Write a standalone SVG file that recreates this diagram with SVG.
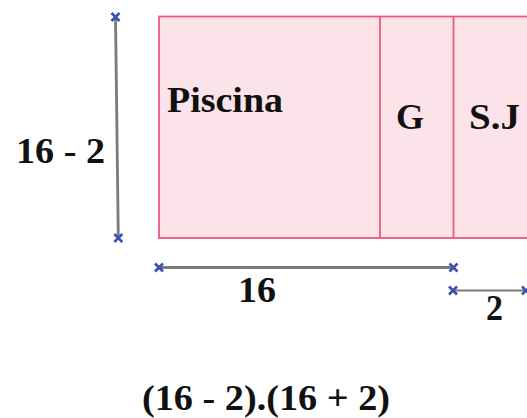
<svg xmlns="http://www.w3.org/2000/svg" width="527" height="418" viewBox="0 0 527 418">
<style>
.room{fill:#fce3ea;stroke:#ea5a7c;stroke-width:1.8}
.div{stroke:#ea5a7c;stroke-width:1.8}
.dim{stroke:#7a7a7a;stroke-width:2.8;fill:none}
.x{stroke:#3b4fb5;stroke-width:2.6;fill:none}
.t{font-family:"Liberation Serif","Times New Roman",serif;font-weight:bold;font-size:36px;fill:#111}
</style>
<defs>
<path id="cr" d="M-4,-4L4,4M-4,4L4,-4" class="x"/>
</defs>
<g id="plan">
<rect class="room" x="159" y="16.5" width="380" height="221.5"/>
<line class="div" x1="380" y1="16.5" x2="380" y2="238"/>
<line class="div" x1="453.5" y1="16.5" x2="453.5" y2="238"/>
</g>
<g id="piscina"><text class="t" x="167" y="112" textLength="116" lengthAdjust="spacingAndGlyphs">Piscina</text></g>
<g id="g"><text class="t" x="396" y="128.5" textLength="28" lengthAdjust="spacingAndGlyphs">G</text></g>
<g id="sj"><text class="t" x="469" y="128.5" textLength="51" lengthAdjust="spacingAndGlyphs">S.J</text></g>
<g id="connectors">
<line class="dim" x1="115.5" y1="17" x2="118.3" y2="238"/>
<use href="#cr" x="115.5" y="17"/>
<use href="#cr" x="118.3" y="238"/>
<line class="dim" x1="159" y1="267.5" x2="453.5" y2="267.5"/>
<use href="#cr" x="159" y="267.5"/>
<use href="#cr" x="453.5" y="267.5"/>
<line class="dim" x1="453" y1="290.5" x2="527" y2="290.5" style="stroke-width:2.2"/>
<use href="#cr" x="453" y="290.5"/>
<use href="#cr" x="526" y="290.5"/>
</g>
<g id="labels">
<text class="t" x="16" y="162.5" textLength="89" lengthAdjust="spacingAndGlyphs">16 - 2</text>
<text class="t" x="238" y="301.5" textLength="38" lengthAdjust="spacingAndGlyphs">16</text>
<text class="t" x="486" y="320" textLength="17" lengthAdjust="spacingAndGlyphs">2</text>
<text class="t" x="142" y="410" textLength="248" lengthAdjust="spacingAndGlyphs">(16 - 2).(16 + 2)</text>
</g>
</svg>
